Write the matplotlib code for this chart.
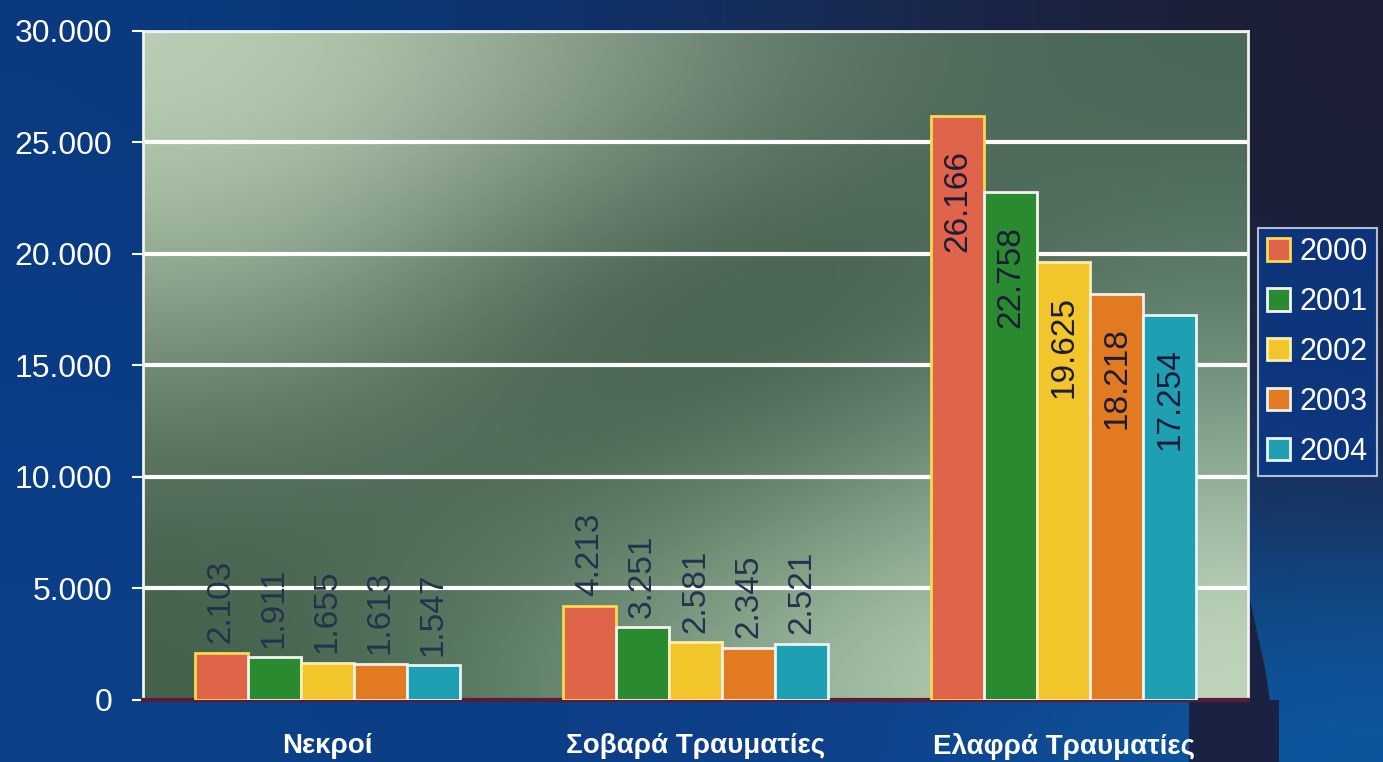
import matplotlib
matplotlib.use("Agg")
import matplotlib.pyplot as plt
import numpy as np
from matplotlib.colors import to_rgb

# Road accident casualties by severity, 2000-2004
categories = ['Νεκροί', 'Σοβαρά Τραυματίες', 'Ελαφρά Τραυματίες']
years = ['2000', '2001', '2002', '2003', '2004']
values = {
    '2000': [2103, 4213, 26166],
    '2001': [1911, 3251, 22758],
    '2002': [1655, 2581, 19625],
    '2003': [1613, 2345, 18218],
    '2004': [1547, 2521, 17254],
}
y_ticks = [0, 5000, 10000, 15000, 20000, 25000, 30000]

bar_colors = ['#e0644a', '#2a8a30', '#f2c62a', '#e27a22', '#1fa0b2']
edge_colors = ['#f4dc50', '#f4f4f0', '#f8eeb0', '#f4f0e8', '#e8f4f4']


def dotted(v):
    return f'{v:,}'.replace(',', '.')


plt.rcParams['font.family'] = ['Liberation Sans', 'DejaVu Sans']

fig = plt.figure(figsize=(13.83, 7.62), dpi=100)

# Blue slide background
bg = fig.add_axes([0, 0, 1, 1])
bg_grid = np.array([
    [to_rgb('#0a3a80'), to_rgb('#0c3470'), to_rgb('#1a2a50'), to_rgb('#1c1e34')],
    [to_rgb('#0a3c84'), to_rgb('#0b3a80'), to_rgb('#1a2c58'), to_rgb('#1c2038')],
    [to_rgb('#0b3e88'), to_rgb('#0b3c86'), to_rgb('#123a78'), to_rgb('#1a2c54')],
    [to_rgb('#0c4088'), to_rgb('#0c3e86'), to_rgb('#10408a'), to_rgb('#0c58a0')],
])
bg.imshow(bg_grid, aspect='auto', interpolation='bicubic', extent=[0, 1, 0, 1])
# dark wedge in the lower right corner, below the plot
bg.fill([0.86, 0.903, 0.903, 0.915, 0.925, 0.86],
        [0.0, 0.082, 0.22, 0.12, 0.0, 0.0], color='#1a2244', lw=0)
bg.fill([0.86, 0.925, 0.925, 0.86], [0.0, 0.0, 0.082, 0.082], color='#1a2244', lw=0)
bg.set_xlim(0, 1)
bg.set_ylim(0, 1)
bg.axis('off')

ax = fig.add_axes([0.1034, 0.0814, 0.799, 0.878])

# Green-grey gradient plot area
plot_grid = np.array([
    [to_rgb('#bccfb8'), to_rgb('#8ea48e'), to_rgb('#5a7262'), to_rgb('#4a6656')],
    [to_rgb('#92aa92'), to_rgb('#4c6452'), to_rgb('#3a5444'), to_rgb('#5a7a66')],
    [to_rgb('#566f5c'), to_rgb('#44604c'), to_rgb('#5a7a64'), to_rgb('#8aa892')],
    [to_rgb('#42604a'), to_rgb('#66866e'), to_rgb('#a2bea2'), to_rgb('#c2d6be')],
])
ax.imshow(plot_grid, aspect='auto', interpolation='bicubic',
          extent=[-0.5, 2.5, 0, 30000], zorder=0)

x = np.arange(len(categories))
bar_w = 0.144
for i, yr in enumerate(years):
    offs = (i - 2) * bar_w
    bars = ax.bar(x + offs, values[yr], bar_w, color=bar_colors[i],
                  edgecolor=edge_colors[i], linewidth=2, zorder=3, label=yr)
    for j, (bar, val) in enumerate(zip(bars, values[yr])):
        cx = bar.get_x() + bar.get_width() / 2
        if j < 2:
            ax.annotate(dotted(val), (cx, val), xytext=(0, 7), textcoords='offset points',
                        rotation=90, ha='center', va='bottom', fontsize=24,
                        color='#24324e', zorder=4)
        else:
            ax.annotate(dotted(val), (cx, val), xytext=(0, -24), textcoords='offset points',
                        rotation=90, ha='center', va='top', fontsize=24,
                        color='#1c1c3a', zorder=4)

ax.set_xlim(-0.5, 2.5)
ax.set_ylim(0, 30000)
ax.set_yticks(y_ticks)
ax.set_yticklabels([dotted(v) for v in y_ticks], fontsize=23, color='white')
ax.tick_params(axis='y', colors='white', length=8, width=1.5, pad=14)
ax.tick_params(axis='x', length=0, pad=24)
ax.set_xticks(x)
ax.set_xticklabels(categories, fontsize=20, fontweight='bold', color='white')

for y in y_ticks[1:]:
    ax.axhline(y, color='white', linewidth=3, zorder=1)

for side in ['left', 'right', 'top']:
    ax.spines[side].set_color('#f0f4f0')
    ax.spines[side].set_linewidth(2)
ax.spines['bottom'].set_color('#5a1a3a')
ax.spines['bottom'].set_linewidth(3)

leg = fig.legend(loc='upper left', bbox_to_anchor=(0.9096, 0.7008), fontsize=22,
                 frameon=True, fancybox=False, handlelength=0.75, handleheight=0.75,
                 handletextpad=0.3, labelspacing=0.65, borderpad=0.3,
                 borderaxespad=0)
leg.get_frame().set_facecolor('#0a3a8a')
leg.get_frame().set_edgecolor('#d8e4f0')
leg.get_frame().set_linewidth(1.5)
for t in leg.get_texts():
    t.set_color('white')

plt.savefig('out.png', dpi=100)
